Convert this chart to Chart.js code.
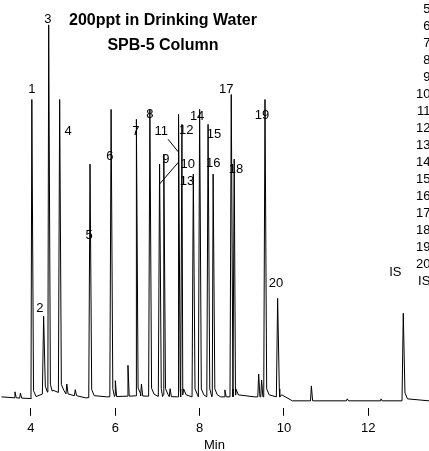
<!DOCTYPE html>
<html><head><script src="https://cdn.jsdelivr.net/npm/chart.js@4"></script>
<style>body{margin:0;background:#fff}#w{width:429px;height:451px}</style></head>
<body><div id="w"><canvas id="c"></canvas></div>
<script>
const peakTimes=[4.02,4.30,4.42,4.68,5.40,5.90,6.50,6.82,7.05,7.15,7.50,7.58,7.85,8.00,8.20,8.32,8.75,8.82,9.55,9.85,12.83];
const peakHeights=[303,85,378,303,238,293,283,293,238,248,288,278,228,293,278,228,308,243,303,103,88];
const minorTimes=[3.62,3.75,4.85,5.05,6.0,6.3,6.62,7.3,8.6,9.4,9.47,10.65,11.5,12.3];
const minorHeights=[6,5,10,6,16,31,12,8,7,23,17,15,2,2];
const baseTimes=[3.3,4.0,4.5,5.3,5.8,6.5,7.5,8.5,9.3,9.9,10.2,13.44];
const baseLevel=[4,2,10,3,4,5,4,4,4,4,0,0];
const labelText=["1","2","3","4","5","6","7","8","9","10","11","12","13","14","15","16","17","18","19","20","IS"];
const labelT=[4.02,4.21,4.40,4.88,5.38,5.87,6.49,6.82,7.20,7.72,7.09,7.68,7.70,7.94,8.34,8.32,8.63,8.86,9.48,9.81,12.64];
const labelV=[313,93,383,271,166,246,271,288,243,238,271,272,221,286,268,239,313,233,287,118,129];
const sideList=["5","6","7","8","9","10","11","12","13","14","15","16","17","18","19","20","IS"];
const xTicks=[4,6,8,10,12];

function baseAt(t){for(let i=0;i<baseTimes.length-1;i++){if(t>=baseTimes[i]&&t<=baseTimes[i+1]){const f=(t-baseTimes[i])/(baseTimes[i+1]-baseTimes[i]);return baseLevel[i]+f*(baseLevel[i+1]-baseLevel[i]);}}return 0;}
const pts=[];
baseTimes.forEach((t,i)=>pts.push({x:t,y:baseLevel[i]}));
peakTimes.forEach((t,i)=>{pts.push({x:t-0.03,y:baseAt(t)});pts.push({x:t,y:peakHeights[i]});pts.push({x:t+0.04,y:baseAt(t)+8});pts.push({x:t+0.1,y:baseAt(t)+2});});
minorTimes.forEach((t,i)=>{pts.push({x:t-0.02,y:baseAt(t)});pts.push({x:t,y:baseAt(t)+minorHeights[i]});pts.push({x:t+0.03,y:baseAt(t)});});
pts.sort((a,b)=>a.x-b.x);

const overlay={id:'overlay',afterDraw(ch){const c=ch.ctx,xs=ch.scales.x,ys=ch.scales.y;c.save();c.fillStyle='#000';
c.font='13px "Liberation Sans", Arial';c.textAlign='center';c.textBaseline='middle';
labelText.forEach((s,i)=>c.fillText(s,xs.getPixelForValue(labelT[i]),ys.getPixelForValue(labelV[i])));
c.strokeStyle='#000';c.lineWidth=1;c.beginPath();
c.moveTo(xs.getPixelForValue(7.25),ys.getPixelForValue(263));c.lineTo(xs.getPixelForValue(7.5),ys.getPixelForValue(250));
c.moveTo(xs.getPixelForValue(7.05),ys.getPixelForValue(218));c.lineTo(xs.getPixelForValue(7.5),ys.getPixelForValue(240));c.stroke();
c.font='bold 16px "Liberation Sans", Arial';
c.fillText('200ppt in Drinking Water',163,21);c.fillText('SPB-5 Column',163,46);
c.font='13px "Liberation Sans", Arial';c.textAlign='right';
sideList.forEach((s,i)=>c.fillText(s+'.',434,9+i*17));
c.restore();}};

new Chart(document.getElementById('c'),{type:'line',
data:{datasets:[{data:pts,borderColor:'#000',borderWidth:1,pointRadius:0,tension:0}]},
options:{responsive:true,maintainAspectRatio:false,animation:false,
layout:{padding:0},
plugins:{legend:{display:false},tooltip:{enabled:false}},
scales:{x:{type:'linear',min:3.265,max:13.44,
afterBuildTicks(a){a.ticks=xTicks.map(v=>({value:v}));},
grid:{drawOnChartArea:false,tickLength:8,color:'#000'},border:{display:false},
ticks:{color:'#000',font:{size:13,family:'"Liberation Sans", Arial'},padding:5,maxRotation:0},
title:{display:true,text:'Min',color:'#000',font:{size:13,family:'"Liberation Sans", Arial'},padding:{top:-4,bottom:-2}}},
y:{display:false,min:-7,max:403}}},
plugins:[overlay]});
</script></body></html>
